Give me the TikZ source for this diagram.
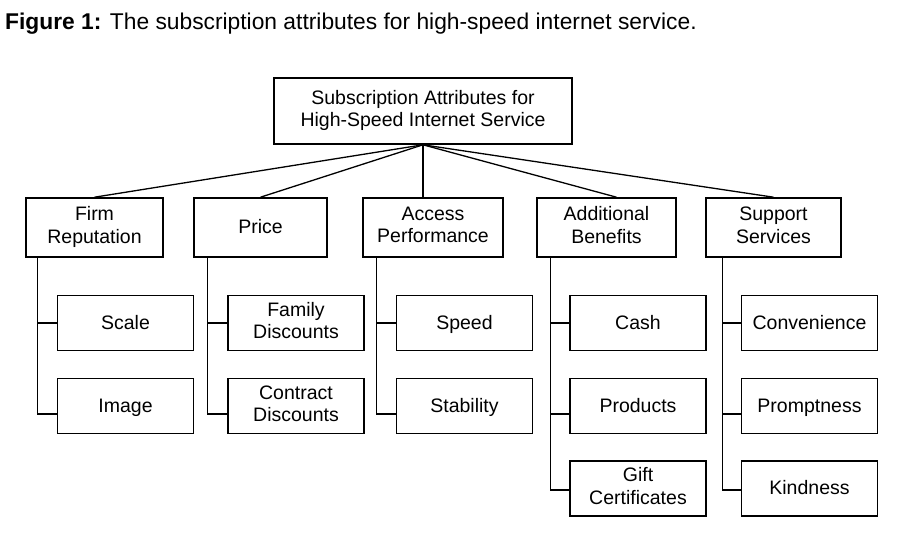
\documentclass[tikz,border=0pt]{standalone}
\usepackage{fontspec}
\setmainfont{Liberation Sans}
\tikzset{
	attrbox/.style={draw,line width=1.6pt,align=center,inner sep=0pt,font=\fontsize{19.5}{22.5}\selectfont,
		execute at begin node=\rule{0pt}{17pt},execute at end node=\rule[-5pt]{0pt}{5pt}},
	link/.style={line width=1.3pt}
}
\begin{document}
\begin{tikzpicture}[x=1pt,y=-1pt]
	
	\def\rowtwo{227.5}
	\def\kw{136pt}
	\def\kh{55pt}
	\useasboundingbox (0,0) rectangle (898,543);
	\node[anchor=base west,inner sep=0pt,font=\fontsize{22.8}{27}\selectfont] (caption) at (5,30) {\textbf{Figure 1:} The subscription attributes for high-speed internet service.};
	\node[attrbox,minimum width=298pt,minimum height=66pt] (root) at (423,111) {Subscription Attributes for\\High-Speed Internet Service};
	% second level
	\node[attrbox,minimum width=137pt,minimum height=59pt] (firm) at (94.5,\rowtwo) {Firm\\Reputation};
	\node[attrbox,minimum width=133pt,minimum height=59pt] (price) at (260.5,\rowtwo) {Price};
	\node[attrbox,minimum width=140pt,minimum height=59pt] (access) at (433,\rowtwo) {Access\\Performance};
	\node[attrbox,minimum width=139pt,minimum height=59pt] (add) at (606.5,\rowtwo) {Additional\\Benefits};
	\node[attrbox,minimum width=135pt,minimum height=59pt] (support) at (773.5,\rowtwo) {Support\\Services};
	% third level
	\foreach \kid/\cx/\cy/\txt in {scale/125.5/323/Scale, image/125.5/406/Image,
		family/296/323/Family\\Discounts, contract/296/406/Contract\\Discounts,
		speed/464.5/323/Speed, stability/464.5/406/Stability,
		cash/638/323/Cash, products/638/406/Products, gift/638/488.5/Gift\\Certificates,
		convenience/809.5/323/Convenience, promptness/809.5/406/Promptness, kindness/809.5/488.5/Kindness}
		\node[attrbox,minimum width=\kw,minimum height=\kh] (\kid) at (\cx,\cy) {\txt};
	
	\foreach \up in {firm,price,support}\draw[link] (root.south) -- (\up.north);
	\draw[link] (root.south) -- (root.south |- access.north);
	\draw[link] (root.south) -- ([xshift=10pt]add.north);
	\foreach \up/\sx/\kid/\dy in {firm/12/scale/0, firm/12/image/-8, price/14/family/0, price/14/contract/-8,
		access/14/speed/0, access/14/stability/-8, add/14/cash/0, add/14/products/-8, add/14/gift/-1.5,
		support/17/convenience/0, support/17/promptness/-8, support/17/kindness/-1.5}
		\draw[link] ([xshift=\sx pt]\up.south west) |- ([yshift=\dy pt]\kid.west);
	
\end{tikzpicture}
\end{document}
